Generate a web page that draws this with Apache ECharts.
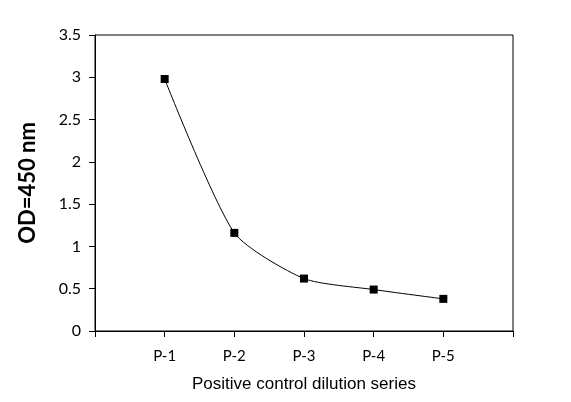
<!DOCTYPE html>
<html>
<head>
<meta charset="utf-8">
<script src="https://cdn.jsdelivr.net/npm/echarts@6/dist/echarts.min.js"></script>
<style>
  html, body { margin: 0; padding: 0; background: #fff; }
  #chart { width: 571px; height: 402px; }
</style>
</head>
<body>
<div id="chart"></div>
<script>
// blank slots at each end give the empty margin left and right of the points
var categories = ['', 'P-1', 'P-2', 'P-3', 'P-4', 'P-5', ''];
var odValues = [null, 2.98, 1.16, 0.62, 0.49, 0.38, null];
var yTicks = { min: 0, max: 3.5, interval: 0.5 };

var chart = echarts.init(document.getElementById('chart'));
var option = {
    animation: false,
    grid: {
        left: 95,
        right: 58,
        top: 35,
        bottom: 71,
        show: true,
        borderColor: '#000',
        borderWidth: 1
    },
    xAxis: {
        type: 'category',
        data: categories,
        boundaryGap: false,
        name: 'Positive control dilution series',
        nameLocation: 'middle',
        nameGap: 45,
        nameTextStyle: { fontFamily: 'Liberation Sans', fontSize: 17, color: '#000' },
        axisLine: { lineStyle: { color: '#000', width: 1 } },
        axisTick: { show: true, length: 6, lineStyle: { color: '#000' } },
        axisLabel: { margin: 18, fontFamily: 'Lato', fontSize: 15, color: '#000', interval: 0 },
        splitLine: { show: false }
    },
    yAxis: {
        type: 'value',
        min: yTicks.min,
        max: yTicks.max,
        interval: yTicks.interval,
        name: 'OD=450 nm',
        nameLocation: 'middle',
        nameGap: 56,
        nameTextStyle: { fontFamily: 'Lato', fontWeight: 'bold', fontSize: 22, color: '#000' },
        axisLine: { show: true, lineStyle: { color: '#000', width: 1 } },
        axisTick: { show: true, length: 6, lineStyle: { color: '#000' } },
        axisLabel: { margin: 14, fontFamily: 'Lato', fontSize: 16, color: '#000' },
        splitLine: { show: false }
    },
    series: [
        {
            type: 'line',
            data: odValues,
            smooth: 0.22,
            connectNulls: false,
            symbol: 'rect',
            symbolSize: 8,
            itemStyle: { color: '#000' },
            lineStyle: { color: '#000', width: 1 }
        }
    ]
};
chart.setOption(option);
</script>
</body>
</html>
